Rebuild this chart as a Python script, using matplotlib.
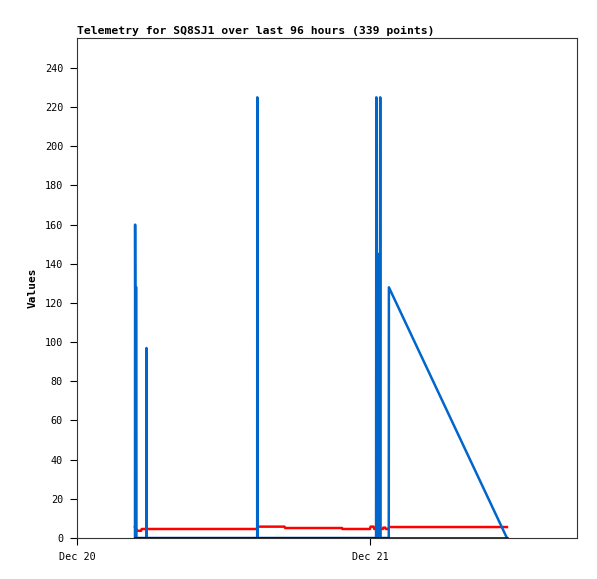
import matplotlib
matplotlib.use("Agg")
import matplotlib.pyplot as plt
import matplotlib.dates as mdates
import numpy as np
from datetime import datetime, timedelta

base = datetime(2023, 12, 20)

# Blue series (hours after Dec 20 00:00, values)
blue_hours = [4.75, 4.76, 4.77, 4.86, 4.87, 5.68, 5.69, 5.70, 14.76, 14.77, 14.78,
              24.50, 24.52, 24.55, 24.60, 24.66, 24.70, 24.74, 24.80, 24.84, 24.87,
              25.54, 25.55, 35.22]
blue_values = [0, 160, 128, 128, 0, 0, 97, 0, 0, 225, 0,
               0, 225, 0, 112, 0, 145, 0, 0, 225, 0,
               0, 128, 0]

# Red series
red_hours = [4.75, 4.85, 4.95, 5.25, 5.30, 14.78, 14.82, 17.0, 17.05, 21.7, 21.75,
             24.0, 24.05, 24.3, 24.35, 25.05, 25.1, 25.25, 25.3, 25.52, 25.56, 35.22]
red_values = [5.6, 4.5, 3.7, 3.7, 4.6, 4.6, 5.8, 5.8, 5.1, 5.1, 4.6,
              4.6, 5.8, 5.8, 4.6, 4.6, 5.3, 5.3, 4.6, 4.6, 5.6, 5.6]

# Black series
black_hours = [4.75, 35.22]
black_values = [0, 0]

x_start_hours = 0.0
x_end_hours = 40.96
y_ticks = list(range(0, 241, 20))


def to_dates(hours):
    return [base + timedelta(hours=h) for h in hours]


mono = ["DejaVu Sans Mono"]
fig = plt.figure(figsize=(5.97, 5.79), dpi=100)
ax = fig.add_axes([77 / 597, 41 / 579, 500 / 597, 500 / 579])

ax.plot(to_dates(red_hours), red_values, color="#ff0000", lw=1.8, zorder=2)
ax.plot(to_dates(blue_hours), blue_values, color="#0066cc", lw=1.8, zorder=3)
ax.plot(to_dates(black_hours), black_values, color="#000000", lw=1.8, zorder=4)

ax.set_xlim(base + timedelta(hours=x_start_hours), base + timedelta(hours=x_end_hours))
ax.set_ylim(0, 255.3)
ax.set_yticks(y_ticks)
ax.xaxis.set_major_locator(mdates.DayLocator())
ax.xaxis.set_major_formatter(mdates.DateFormatter("%b %d"))

for lab in ax.get_xticklabels() + ax.get_yticklabels():
    lab.set_fontfamily(mono)
    lab.set_fontsize(7.3)
ax.tick_params(axis="both", direction="out", length=5, width=0.8, color="black")
ax.tick_params(axis="x", pad=5)
ax.tick_params(axis="y", pad=5)

for s in ax.spines.values():
    s.set_linewidth(0.8)
    s.set_color("#333333")

ax.set_ylabel("Values", fontfamily=mono, fontweight="bold", fontsize=8, labelpad=5)
fig.text(77 / 597, 1 - 31 / 579, "Telemetry for SQ8SJ1 over last 96 hours (339 points)",
         fontfamily=mono, fontweight="bold", fontsize=8.2, ha="left", va="center")

fig.savefig("out.png", dpi=100, facecolor="white")
